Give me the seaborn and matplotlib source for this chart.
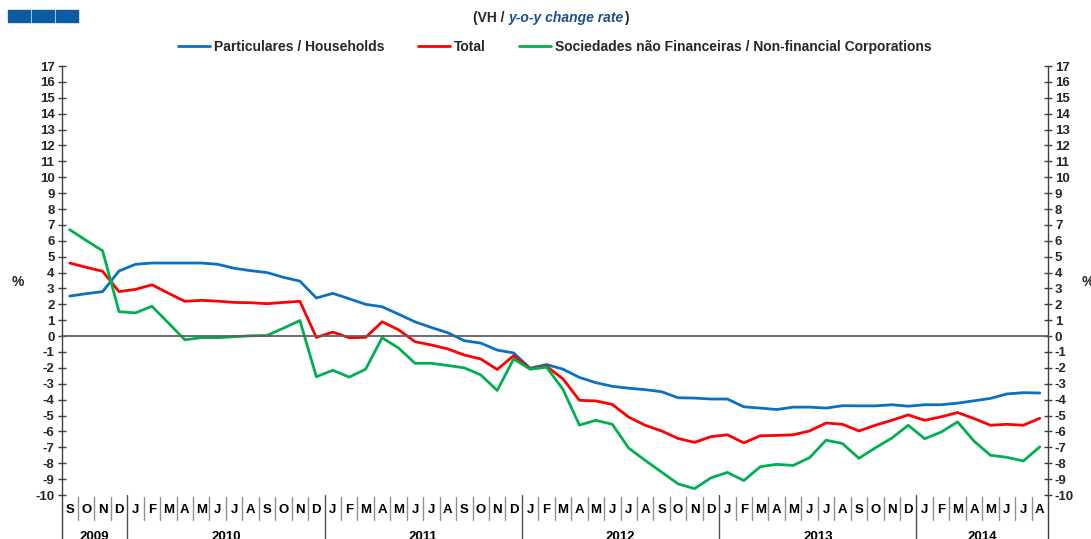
"""
Taxa de variação homóloga - particulares, total e sociedades não financeiras
"""
import numpy as np
import pandas as pd
import matplotlib
matplotlib.use('Agg')
import matplotlib.pyplot as plt
import matplotlib.transforms as mtransforms
from matplotlib.patches import Rectangle
import seaborn as sns

sns.set_style("white")
plt.rcParams['font.family'] = ['Liberation Sans Narrow', 'Liberation Sans', 'DejaVu Sans']
plt.rcParams['font.weight'] = 'bold'
plt.rcParams['axes.unicode_minus'] = False

# meses: set/2009 a ago/2014
month_letters = ['J', 'F', 'M', 'A', 'M', 'J', 'J', 'A', 'S', 'O', 'N', 'D']
years = [2009, 2010, 2011, 2012, 2013, 2014]
first_month = 9   # setembro 2009
last_month = 8    # agosto 2014

series_names = ['Particulares / Households', 'Total',
                'Sociedades não Financeiras / Non-financial Corporations']
series_colors = ['#0A70C4', '#FF0000', '#00B050']

households = [2.52, 2.67, 2.8, 4.1,
              4.52, 4.6, 4.6, 4.6, 4.6, 4.52, 4.27, 4.12, 4.0, 3.7, 3.46, 2.4,
              2.69, 2.35, 2.0, 1.85, 1.38, 0.9, 0.54, 0.21, -0.29, -0.44, -0.88, -1.06,
              -2.02, -1.79, -2.08, -2.6, -2.93, -3.16, -3.28, -3.37, -3.5, -3.88, -3.9, -3.96,
              -3.96, -4.45, -4.53, -4.62, -4.47, -4.47, -4.53, -4.38, -4.39, -4.39, -4.32, -4.41,
              -4.32, -4.32, -4.22, -4.07, -3.92, -3.64, -3.56, -3.58]
total = [4.6, 4.33, 4.08, 2.8,
         2.94, 3.23, 2.7, 2.19, 2.25, 2.2, 2.12, 2.1, 2.04, 2.12, 2.19, -0.08,
         0.25, -0.1, -0.08, 0.9, 0.4, -0.35, -0.56, -0.81, -1.19, -1.44, -2.1, -1.23,
         -2.06, -1.9, -2.69, -4.04, -4.08, -4.3, -5.1, -5.61, -5.97, -6.44, -6.69, -6.33,
         -6.21, -6.72, -6.27, -6.25, -6.21, -5.97, -5.47, -5.55, -5.97, -5.61, -5.3, -4.96,
         -5.3, -5.08, -4.81, -5.19, -5.61, -5.55, -5.61, -5.17]
corporations = [6.7, 6.02, 5.37, 1.54,
                1.46, 1.88, 0.83, -0.23, -0.1, -0.1, -0.04, 0.02, 0.04, 0.5, 0.98, -2.56,
                -2.15, -2.58, -2.08, -0.1, -0.75, -1.71, -1.71, -1.85, -2.0, -2.44, -3.42, -1.44,
                -2.08, -1.96, -3.35, -5.6, -5.3, -5.55, -7.05, -7.82, -8.56, -9.3, -9.6, -8.92,
                -8.58, -9.09, -8.22, -8.07, -8.14, -7.65, -6.55, -6.76, -7.69, -7.03, -6.42, -5.61,
                -6.46, -6.04, -5.4, -6.61, -7.5, -7.63, -7.86, -6.97]

# lista de meses (ano, mês)
months = []
for y in years:
    m0 = first_month if y == years[0] else 1
    m1 = last_month if y == years[-1] else 12
    for m in range(m0, m1 + 1):
        months.append((y, m))
n = len(months)
idx = np.arange(n)

df = pd.concat([
    pd.DataFrame({'idx': idx, 'valor': vals, 'serie': name})
    for name, vals in zip(series_names, [households, total, corporations])
])

W, H = 1091, 539
fig = plt.figure(figsize=(W / 100, H / 100), dpi=100)
ax_left, ax_right, ax_top, ax_bot = 61.5, 1048, 66, 495
ax = fig.add_axes([ax_left / W, 1 - ax_bot / H, (ax_right - ax_left) / W, (ax_bot - ax_top) / H])

sns.lineplot(data=df, x='idx', y='valor', hue='serie', hue_order=series_names,
             palette=series_colors, linewidth=2.0, ax=ax)

ax.set_xlim(-0.5, n - 0.5)
ax.set_ylim(-10, 17)
ax.set_xlabel('')
ax.set_ylabel('')

# eixo y dos dois lados
ax.set_yticks(range(-10, 18))
ax.tick_params(axis='y', which='both', direction='inout', length=6, width=1,
               color='#404040', labelsize=9.5, pad=2, left=True, right=True,
               labelleft=True, labelright=True)
for s in ['left', 'right']:
    ax.spines[s].set_color('#404040')
    ax.spines[s].set_linewidth(1)
ax.spines['top'].set_visible(False)

# linha do zero com marcas dos meses
ax.spines['bottom'].set_position(('data', 0))
ax.spines['bottom'].set_color('#606060')
ax.spines['bottom'].set_linewidth(1.3)
ax.set_xticks(np.arange(0.5, n - 1, 1))
ax.tick_params(axis='x', direction='out', length=3, width=1, color='#404040',
               labelbottom=False)

# legenda
ax.legend(loc='center', bbox_to_anchor=(0.5, 1.044), ncol=3, frameon=False,
          fontsize=10, handlelength=2.3, handletextpad=0.3, columnspacing=2.4)

# rótulos dos meses e anos por baixo
trans = mtransforms.blended_transform_factory(ax.transData, ax.transAxes)
def ay(px):
    return (ax_bot - px) / (ax_bot - ax_top)

for i, (y, m) in enumerate(months):
    ax.text(i, ay(510), month_letters[m - 1], transform=trans, ha='center', va='center',
            fontsize=9.5, color='black')
    if i < n - 1:
        if months[i + 1][1] == 1:
            ax.plot([i + 0.5, i + 0.5], [0, ay(539)], transform=trans, color='#505050',
                    lw=1, clip_on=False)
        else:
            ax.plot([i + 0.5, i + 0.5], [ay(497), ay(520)], transform=trans, color='#909090',
                    lw=1, clip_on=False)
for x in [-0.5, n - 0.5]:
    ax.plot([x, x], [0, ay(539)], transform=trans, color='#404040', lw=1, clip_on=False)

for y in years:
    pos = [i for i, (yy, m) in enumerate(months) if yy == y]
    ax.text(np.mean(pos), ay(531), str(y), transform=trans, ha='center', va='top',
            fontsize=9.5, color='black')

# símbolo %
fig.text(18 / W, 1 - 282 / H, '%', ha='center', va='center', fontsize=10)
fig.text(1088 / W, 1 - 282 / H, '%', ha='center', va='center', fontsize=10)

# quadrados azuis no canto
for x0 in [8, 32, 56]:
    fig.patches.append(Rectangle((x0 / W, 1 - 22 / H), 22 / W, 12 / H,
                                 transform=fig.transFigure, color='#0B5CA3'))

# subtítulo
t1 = fig.text(473 / W, 1 - 18 / H, '(VH / ', ha='left', va='center', fontsize=10)
t2 = ax.annotate('y-o-y change rate', xy=(1, 0), xycoords=t1, va='bottom', ha='left',
                 fontsize=10, style='italic', color='#1F4E8C')
ax.annotate(')', xy=(1, 0), xycoords=t2, va='bottom', ha='left', fontsize=10)

plt.savefig('out.png', dpi=100)
plt.close()
